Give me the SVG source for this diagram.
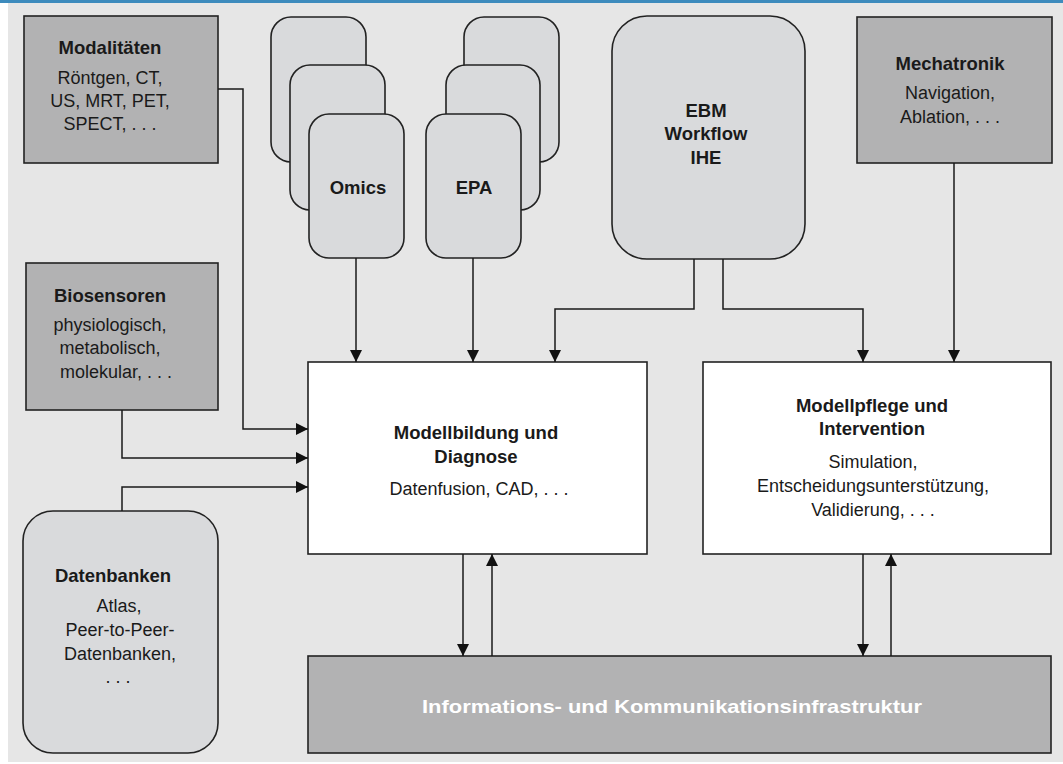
<svg xmlns="http://www.w3.org/2000/svg" width="1063" height="764" viewBox="0 0 1063 764">
<defs>
<style>
.dark{fill:#b2b2b3;stroke:#222;stroke-width:1.6}
.card{fill:#d9dadc;stroke:#222;stroke-width:1.6}
.white{fill:#fff;stroke:#222;stroke-width:1.6}
text{font-family:"Liberation Sans",Arial,sans-serif;font-size:18px;fill:#1a1a1a;text-anchor:middle}
.b{font-weight:bold;font-size:18.5px}
.conn path{fill:none;stroke:#1a1a1a;stroke-width:1.5}
</style>
<marker id="ah" markerUnits="userSpaceOnUse" markerWidth="14" markerHeight="14" viewBox="0 0 14 14" refX="13" refY="7" orient="auto">
<path d="M1,1 L13,7 L1,13 Z" fill="#111"/>
</marker>
</defs>
<rect x="0" y="0" width="1063" height="764" fill="#fff"/>
<rect x="8" y="3" width="1055" height="759" fill="#e6e6e6"/>
<rect x="0" y="0" width="1063" height="3" fill="#3d8bbd"/>

<g id="modalitaeten">
<rect class="dark" x="24" y="16" width="194" height="147"/>
<text class="b" x="110" y="54">Modalitäten</text>
<text x="110" y="84">Röntgen, CT,</text>
<text x="110" y="107">US, MRT, PET,</text>
<text x="110" y="130">SPECT, . . .</text>
</g>

<g id="omics">
<rect class="card" x="271" y="17" width="95" height="145" rx="20"/>
<rect class="card" x="290" y="65" width="95" height="145" rx="20"/>
<rect class="card" x="309" y="114" width="95" height="144" rx="20"/>
<text class="b" x="358" y="194">Omics</text>
</g>

<g id="epa">
<rect class="card" x="464" y="17" width="95" height="145" rx="20"/>
<rect class="card" x="446" y="65" width="94" height="145" rx="20"/>
<rect class="card" x="426" y="114" width="95" height="144" rx="20"/>
<text class="b" x="474" y="194">EPA</text>
</g>

<g id="ebm">
<rect class="card" x="612" y="16" width="193" height="243" rx="35"/>
<text class="b" x="706" y="117">EBM</text>
<text class="b" x="706" y="140">Workflow</text>
<text class="b" x="706" y="164">IHE</text>
</g>

<g id="mechatronik">
<rect class="dark" x="857" y="17" width="195" height="146"/>
<text class="b" x="950" y="70">Mechatronik</text>
<text x="950" y="99">Navigation,</text>
<text x="950" y="123">Ablation, . . .</text>
</g>

<g id="biosensoren">
<rect class="dark" x="26" y="263" width="192" height="147"/>
<text class="b" x="110" y="302">Biosensoren</text>
<text x="110" y="331">physiologisch,</text>
<text x="110" y="354">metabolisch,</text>
<text x="116" y="378">molekular, . . .</text>
</g>

<g id="datenbanken">
<rect class="card" x="23" y="511" width="195" height="242" rx="30"/>
<text class="b" x="113" y="582">Datenbanken</text>
<text x="119" y="612">Atlas,</text>
<text x="120" y="636">Peer-to-Peer-</text>
<text x="120" y="660">Datenbanken,</text>
<text x="118" y="683">. . .</text>
</g>

<g id="modellbildung">
<rect class="white" x="308" y="362" width="339" height="192"/>
<text class="b" x="476" y="439">Modellbildung und</text>
<text class="b" x="476" y="463">Diagnose</text>
<text x="479" y="495">Datenfusion, CAD, . . .</text>
</g>

<g id="modellpflege">
<rect class="white" x="703" y="362" width="348" height="192"/>
<text class="b" x="872" y="412">Modellpflege und</text>
<text class="b" x="872" y="435">Intervention</text>
<text x="873" y="468">Simulation,</text>
<text x="873" y="492">Entscheidungsunterstützung,</text>
<text x="873" y="516">Validierung, . . .</text>
</g>

<g id="infrastruktur">
<rect class="dark" x="308" y="656" width="743" height="97"/>
<text class="b" x="672" y="713" style="fill:#fff;font-size:19px" textLength="500" lengthAdjust="spacingAndGlyphs">Informations- und Kommunikationsinfrastruktur</text>
</g>

<g id="connectors" class="conn">
<path d="M218,89 H243 V429 H308" marker-end="url(#ah)"/>
<path d="M122,410 V458 H308" marker-end="url(#ah)"/>
<path d="M122,511 V487 H308" marker-end="url(#ah)"/>
<path d="M356,258 V362" marker-end="url(#ah)"/>
<path d="M473,258 V362" marker-end="url(#ah)"/>
<path d="M694,259 V309 H555 V362" marker-end="url(#ah)"/>
<path d="M723,259 V309 H863 V362" marker-end="url(#ah)"/>
<path d="M954,163 V362" marker-end="url(#ah)"/>
<path d="M463,554 V656" marker-end="url(#ah)"/>
<path d="M492,656 V554" marker-end="url(#ah)"/>
<path d="M863,554 V656" marker-end="url(#ah)"/>
<path d="M891,656 V554" marker-end="url(#ah)"/>
</g>
</svg>
